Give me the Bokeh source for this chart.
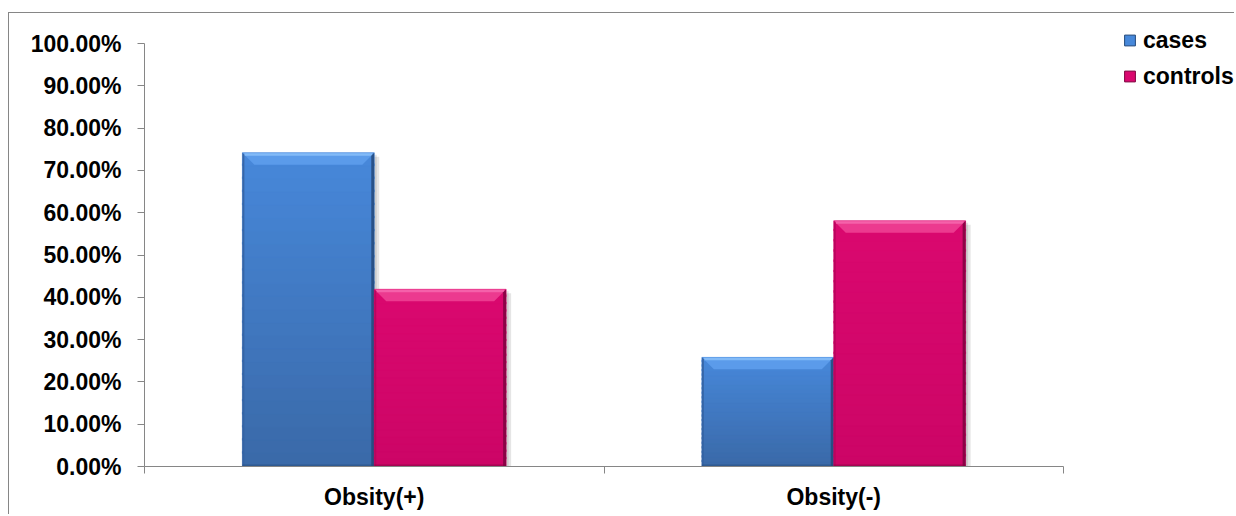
import numpy as np
from bokeh.plotting import figure
from bokeh.models import (FixedTicker, NumeralTickFormatter, Legend, LegendItem,
                          Range1d)
from bokeh.embed import file_html
from bokeh.resources import INLINE

# ---- data -------------------------------------------------------------
categories = ["Obsity(+)", "Obsity(-)"]
series_names = ["cases", "controls"]
cases = [0.742, 0.258]
controls = [0.419, 0.581]
y_ticks = [0.0, 0.1, 0.2, 0.3, 0.4, 0.5, 0.6, 0.7, 0.8, 0.9, 1.0]

# ---- style ------------------------------------------------------------
FONT = "Liberation Sans"
AXIS_COL = "#868686"
styles_by_series = {
    "cases": dict(top="#4788DA", bottom="#3A69A8", bevel_top="#5B9BEA",
                  hi="#8CC2FA", right="#24497A", left="#3463A3"),
    "controls": dict(top="#DA086F", bottom="#CC0566", bevel_top="#EC3A8F",
                     hi="#F86CB0", right="#7E033F", left="#B8045C"),
}

W, H = 1226, 502
ML, MR, MT, MB = 135, 0, 5, 49
FW, FH = W - ML - MR, H - MT - MB          # frame size in px
AXW, AXH = 919, 423                          # px covered by the data axes
n_cat = len(categories)
px_x = n_cat / AXW                           # data units per px
px_y = 1.0 / AXH

p = figure(width=W, height=H, x_range=Range1d(0, FW * px_x),
           y_range=Range1d(0, FH * px_y),
           output_backend="svg", toolbar_location=None,
           min_border_left=ML, min_border_right=MR,
           min_border_top=MT, min_border_bottom=MB)
p.styles = {"border-left": f"1px solid {AXIS_COL}",
            "border-top": f"1px solid {AXIS_COL}",
            "margin-top": "12px", "margin-left": "8px"}
p.outline_line_color = None
p.xgrid.visible = False
p.ygrid.visible = False
p.background_fill_color = "white"
p.border_fill_color = "white"

# ---- bars ---------------------------------------------------------------
bar_w = 0.287
offsets = {"cases": -bar_w / 2, "controls": bar_w / 2}
series_vals = {"cases": cases, "controls": controls}
N = 24
b = 12  # bevel size px
bx, by = b * px_x, b * px_y


def hex2rgb(h):
    h = h.lstrip("#")
    return np.array([int(h[i:i + 2], 16) for i in (0, 2, 4)], dtype=float)


def rgb2hex(c):
    return "#%02x%02x%02x" % tuple(int(round(v)) for v in c)


for s in series_names:
    st = styles_by_series[s]
    vals = series_vals[s]
    for i, v in enumerate(vals):
        xc = i + 0.5 + offsets[s]
        x0, x1 = xc - bar_w / 2, xc + bar_w / 2
        # soft shadow
        p.quad(left=[x1], right=[x1 + 5 * px_x], bottom=[0], top=[v - 4 * px_y],
               fill_color="black", fill_alpha=0.10, line_color=None)
        p.quad(left=[x1], right=[x1 + 2.5 * px_x], bottom=[0], top=[v - 2 * px_y],
               fill_color="black", fill_alpha=0.10, line_color=None)
        # vertical gradient body (slices overlap to avoid seams)
        ct, cb = hex2rgb(st["top"]), hex2rgb(st["bottom"])
        lefts, rights, bots, tops, cols = [], [], [], [], []
        for k in range(N):
            f0, f1 = k / N, (k + 1) / N
            lefts.append(x0); rights.append(x1)
            bots.append(v * f0)
            tops.append(min(v, v * f1 + 2 * px_y))
            cols.append(rgb2hex(cb + (ct - cb) * (k + 0.5) / N))
        p.quad(left=lefts, right=rights, bottom=bots, top=tops,
               fill_color=cols, line_color=cols, line_width=0.5)
        # bevel: top
        p.patch(x=[x0, x1, x1 - bx, x0 + bx], y=[v, v, v - by, v - by],
                fill_color=st["bevel_top"], line_color=None)
        p.quad(left=[x0 + 2 * px_x], right=[x1 - 2 * px_x], bottom=[v - 3 * px_y],
               top=[v - 0.5 * px_y], fill_color=st["hi"], fill_alpha=0.8, line_color=None)
        # bevel: right
        p.patch(x=[x1, x1, x1 - 3 * px_x, x1 - 3 * px_x], y=[v, 0, 0, v - 3 * px_y],
                fill_color=st["right"], fill_alpha=0.85, line_color=None)
        # bevel: left
        p.patch(x=[x0, x0 + 2 * px_x, x0 + 2 * px_x, x0], y=[v, v - 2 * px_y, 0, 0],
                fill_color=st["left"], fill_alpha=0.9, line_color=None)
        # bottom edge
        p.quad(left=[x0], right=[x1], bottom=[0], top=[2 * px_y],
               fill_color=st["right"], fill_alpha=0.5, line_color=None)

# ---- axes ---------------------------------------------------------------
ya = p.yaxis[0]
ya.ticker = FixedTicker(ticks=y_ticks)
ya.bounds = (0, 1)
ya.formatter = NumeralTickFormatter(format="0.00%")
ya.axis_line_color = AXIS_COL
ya.major_tick_line_color = AXIS_COL
ya.major_tick_out = 7
ya.major_tick_in = 0
ya.minor_tick_line_color = None
ya.major_label_standoff = 16
ya.major_label_text_font = FONT
ya.major_label_text_font_style = "bold"
ya.major_label_text_font_size = "23px"
ya.major_label_text_color = "black"

xa = p.xaxis[0]
xa.ticker = FixedTicker(ticks=[i + 0.5 for i in range(n_cat)],
                        minor_ticks=[float(i) for i in range(n_cat + 1)])
xa.bounds = (0, n_cat)
xa.major_label_overrides = {i + 0.5: c for i, c in enumerate(categories)}
xa.axis_line_color = AXIS_COL
xa.major_tick_line_color = None
xa.major_tick_out = 0
xa.major_tick_in = 0
xa.minor_tick_line_color = AXIS_COL
xa.minor_tick_out = 7
xa.minor_tick_in = 0
xa.major_label_standoff = 10
xa.major_label_text_font = FONT
xa.major_label_text_font_style = "bold"
xa.major_label_text_font_size = "23px"
xa.major_label_text_color = "black"

# ---- legend (proxy markers that are never drawn in the plot) ------------
items = []
for s in series_names:
    st = styles_by_series[s]
    r = p.scatter(x=[np.nan], y=[np.nan], marker="square",
                  fill_color=st["top"], line_color=st["right"], line_width=1)
    items.append(LegendItem(label=s, renderers=[r]))

legend = Legend(items=items, location=(972, 375), glyph_width=27, glyph_height=30,
                label_standoff=0, spacing=6, padding=0, margin=0,
                border_line_color=None, background_fill_alpha=0,
                label_text_font=FONT, label_text_font_style="bold",
                label_text_font_size="23px", label_text_color="black")
p.add_layout(legend, "center")

open("out.html", "w").write(file_html(p, INLINE))
